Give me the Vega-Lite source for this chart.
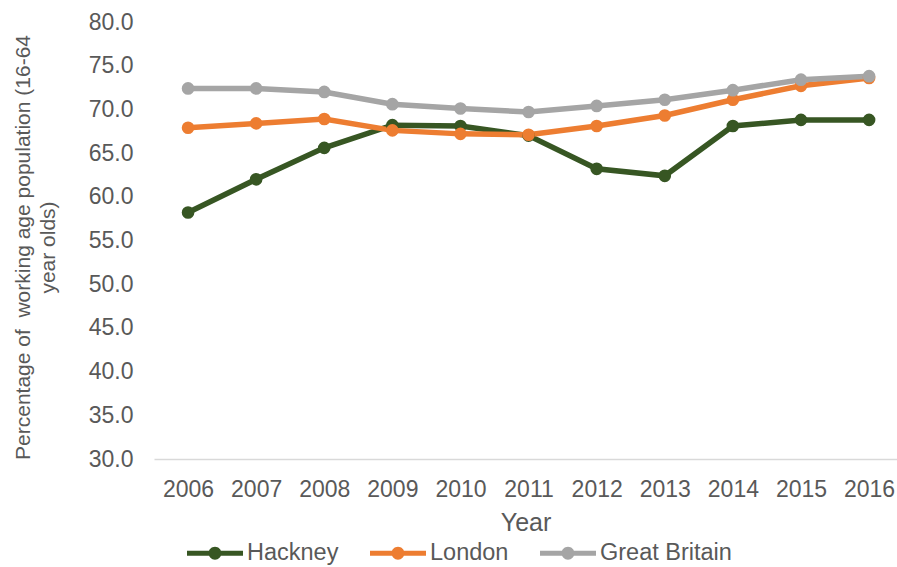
{
  "$schema": "https://vega.github.io/schema/vega-lite/v6.json",
  "width": 743,
  "height": 437,
  "autosize": {"type": "none"},
  "padding": {"left": 154, "top": 22, "right": 0, "bottom": 108},
  "background": "white",
  "config": {
    "view": {"stroke": null},
    "font": "Liberation Sans",
    "axis": {"labelColor": "#595959", "titleColor": "#595959", "labelFont": "Liberation Sans", "titleFont": "Liberation Sans", "titleFontWeight": "normal"},
    "legend": {"labelColor": "#595959", "labelFont": "Liberation Sans"}
  },
  "data": {
    "values": [
      {"year": 2006, "area": "Hackney", "rate": 58.2},
      {"year": 2007, "area": "Hackney", "rate": 62.0},
      {"year": 2008, "area": "Hackney", "rate": 65.6},
      {"year": 2009, "area": "Hackney", "rate": 68.2},
      {"year": 2010, "area": "Hackney", "rate": 68.1},
      {"year": 2011, "area": "Hackney", "rate": 67.0},
      {"year": 2012, "area": "Hackney", "rate": 63.2},
      {"year": 2013, "area": "Hackney", "rate": 62.4},
      {"year": 2014, "area": "Hackney", "rate": 68.1},
      {"year": 2015, "area": "Hackney", "rate": 68.8},
      {"year": 2016, "area": "Hackney", "rate": 68.8},
      {"year": 2006, "area": "London", "rate": 67.9},
      {"year": 2007, "area": "London", "rate": 68.4},
      {"year": 2008, "area": "London", "rate": 68.9},
      {"year": 2009, "area": "London", "rate": 67.6},
      {"year": 2010, "area": "London", "rate": 67.2},
      {"year": 2011, "area": "London", "rate": 67.1},
      {"year": 2012, "area": "London", "rate": 68.1},
      {"year": 2013, "area": "London", "rate": 69.3},
      {"year": 2014, "area": "London", "rate": 71.1},
      {"year": 2015, "area": "London", "rate": 72.7},
      {"year": 2016, "area": "London", "rate": 73.6},
      {"year": 2006, "area": "Great Britain", "rate": 72.4},
      {"year": 2007, "area": "Great Britain", "rate": 72.4},
      {"year": 2008, "area": "Great Britain", "rate": 72.0},
      {"year": 2009, "area": "Great Britain", "rate": 70.6},
      {"year": 2010, "area": "Great Britain", "rate": 70.1},
      {"year": 2011, "area": "Great Britain", "rate": 69.7},
      {"year": 2012, "area": "Great Britain", "rate": 70.4},
      {"year": 2013, "area": "Great Britain", "rate": 71.1},
      {"year": 2014, "area": "Great Britain", "rate": 72.2},
      {"year": 2015, "area": "Great Britain", "rate": 73.4},
      {"year": 2016, "area": "Great Britain", "rate": 73.8}
    ]
  },
  "encoding": {
    "x": {
      "field": "year",
      "type": "quantitative",
      "scale": {"domain": [2005.5, 2016.41], "nice": false, "zero": false},
      "axis": {
        "title": "Year",
        "values": [2006, 2007, 2008, 2009, 2010, 2011, 2012, 2013, 2014, 2015, 2016],
        "format": "d",
        "grid": false,
        "ticks": false,
        "domainColor": "#d9d9d9",
        "domainWidth": 1.5,
        "labelFontSize": 23,
        "labelPadding": 19,
        "titleFontSize": 25,
        "titlePadding": 9
      }
    },
    "y": {
      "field": "rate",
      "type": "quantitative",
      "scale": {"domain": [30, 80], "nice": false, "zero": false},
      "axis": {
        "title": ["Percentage of\u00a0 working age population (16-64", "year olds)"],
        "values": [30, 35, 40, 45, 50, 55, 60, 65, 70, 75, 80],
        "format": ".1f",
        "grid": false,
        "ticks": false,
        "domain": false,
        "labelFontSize": 23,
        "labelPadding": 21,
        "titleFontSize": 21,
        "titleLineHeight": 25,
        "titleAngle": -90,
        "titleAlign": "center",
        "titleBaseline": "top",
        "titleX": -142,
        "titleY": 225
      }
    },
    "color": {
      "field": "area",
      "type": "nominal",
      "scale": {
        "domain": ["Hackney", "London", "Great Britain"],
        "range": ["#375623", "#ED7D31", "#A5A5A5"]
      },
      "legend": {
        "title": null,
        "orient": "none",
        "direction": "horizontal",
        "legendX": 33,
        "legendY": 503,
        "padding": 0,
        "symbolType": "M-1,-0.09 L1,-0.09 L1,0.09 L-1,0.09 Z M0.23,0 A0.23,0.23 0 1,1 -0.23,0 A0.23,0.23 0 1,1 0.23,0 Z",
        "symbolSize": 3136,
        "symbolStrokeWidth": 0,
        "labelFontSize": 23.5,
        "labelOffset": 4,
        "columnPadding": 31,
        "encode": {
          "symbols": {
            "update": {
              "fill": {"scale": "color", "field": "value"},
              "fillOpacity": {"value": 1},
              "strokeWidth": {"value": 0}
            }
          }
        }
      }
    }
  },
  "layer": [
    {"mark": {"type": "line", "strokeWidth": 5.5}},
    {"mark": {"type": "point", "filled": true, "opacity": 1, "size": 160}}
  ]
}
